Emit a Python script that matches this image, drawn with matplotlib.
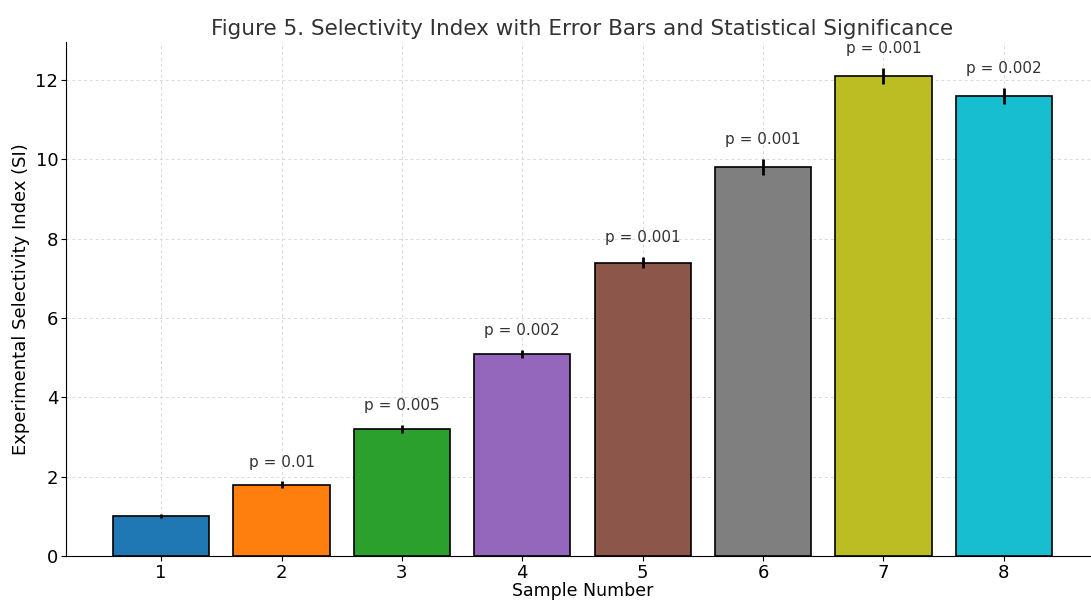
import numpy as np
import matplotlib
matplotlib.use("Agg")
import matplotlib.pyplot as plt

# Data
samples = [1, 2, 3, 4, 5, 6, 7, 8]
si_values = [1.0, 1.8, 3.2, 5.1, 7.4, 9.8, 12.1, 11.6]
si_errors = [0.05, 0.08, 0.1, 0.1, 0.15, 0.2, 0.2, 0.2]
p_values = ["0.01", "0.01", "0.005", "0.002", "0.001", "0.001", "0.001", "0.002"]
show_p = [False, True, True, True, True, True, True, True]
bar_colors = ["#1f77b4", "#ff7f0e", "#2ca02c", "#9467bd",
              "#8c564b", "#7f7f7f", "#bcbd22", "#17becf"]

fig = plt.figure(figsize=(10.91, 6.02), dpi=100)
# right edge of the original plot is cut off by the crop
ax = fig.add_axes([66 / 1091, 1 - 556 / 602, (1099 - 66) / 1091, (556 - 42) / 602])

ax.bar(samples, si_values, yerr=si_errors, color=bar_colors, edgecolor="black",
       linewidth=1.2, width=0.8, error_kw=dict(ecolor="black", elinewidth=2, capsize=0),
       zorder=3)

for x, v, e, p, s in zip(samples, si_values, si_errors, p_values, show_p):
    if s:
        ax.text(x, v + e + 0.3, f"p = {p}", ha="center", va="bottom",
                fontsize=11, color="#333333", zorder=4)

ax.set_xticks(samples)
ax.tick_params(labelsize=13, pad=2)
ax.set_xlabel("Sample Number", fontsize=12.5, labelpad=0)
ax.set_ylabel("Experimental Selectivity Index (SI)", fontsize=13)
ax.set_title("Figure 5. Selectivity Index with Error Bars and Statistical Significance",
             fontsize=15.5, color="#333333", pad=5)
ax.grid(True, linestyle=(0, (3, 3)), color="#d9d9d9", linewidth=0.7, zorder=0)
ax.spines["top"].set_visible(False)
ax.spines["right"].set_visible(False)
ax.set_ylim(0, 12.96)
ax.set_xlim(0.21, 8.79)

fig.savefig("out.png", dpi=100)
